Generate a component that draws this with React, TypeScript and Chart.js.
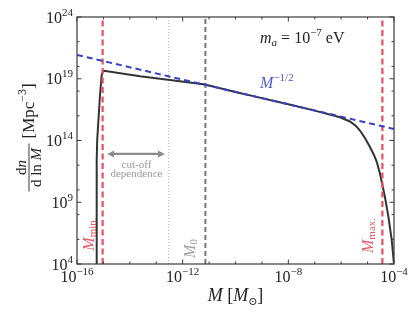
import { useEffect, useRef } from 'react';
import { Chart, registerables } from 'chart.js';

Chart.register(...registerables);

// ---- data (log10 values) ----
const curveLogM = [-15.27, -15.254, -15.235, -15.129, -15.065, -15.016, -14.978, -13.615, -12.48, -11.155, -10, -9, -8, -7, -6.046, -5.667, -5.44, -5.289, -5.1, -4.91, -4.76, -4.656, -4.53, -4.418, -4.342, -4.217, -4.089, -4.0];
const curveLogN = [4, 12.42, 14.04, 17.68, 19.3, 19.63, 19.65, 19.2, 18.9, 18.53, 17.93, 17.43, 16.93, 16.42, 15.88, 15.54, 15.17, 14.81, 14.2, 13.47, 12.83, 12.3, 11.3, 10.2, 9.4, 7.9, 6.0, 4.0];
const slopeLogM = [-16, -4];
const slopeLogN = [20.93, 14.93];
const mMinLog = -15.03;
const mMaxLog = -4.44;
const m0Log = -11.14;
const cutLog = -12.53;
const xMajorExps = [-16, -12, -8, -4];
const xMinorExps = [-15, -14, -13, -11, -10, -9, -7, -6, -5];
const yMajorExps = [4, 9, 14, 19, 24];
const yMinorExps = [6, 8, 10, 12, 16, 18, 20, 22];
const xRange = [-16, -4];
const yRange = [4, 24];

const P = (v: number) => Math.pow(10, v);

type Seg = { t: string; size: number; italic?: boolean; dy?: number; color?: string };
const FAM = '"Liberation Serif", "DejaVu Serif", serif';
const segFont = (s: Seg) => `${s.italic ? 'italic ' : ''}${s.size}px ${FAM}`;
function richWidth(ctx: CanvasRenderingContext2D, segs: Seg[]) {
  let w = 0;
  for (const s of segs) {
    ctx.font = segFont(s);
    w += ctx.measureText(s.t).width;
  }
  return w;
}
function drawRich(ctx: CanvasRenderingContext2D, segs: Seg[], x: number, y: number, align: 'left' | 'center' | 'right', color: string) {
  const w = richWidth(ctx, segs);
  let cx = align === 'left' ? x : align === 'center' ? x - w / 2 : x - w;
  ctx.textAlign = 'left';
  ctx.textBaseline = 'alphabetic';
  for (const s of segs) {
    ctx.font = segFont(s);
    ctx.fillStyle = s.color || color;
    ctx.fillText(s.t, cx, y + (s.dy || 0));
    cx += ctx.measureText(s.t).width;
  }
  return w;
}
function drawRotated(ctx: CanvasRenderingContext2D, segs: Seg[], x: number, y: number, color: string) {
  ctx.save();
  ctx.translate(x, y);
  ctx.rotate(-Math.PI / 2);
  drawRich(ctx, segs, 0, 0, 'left', color);
  ctx.restore();
}
const pow10 = (e: number): Seg[] => [
  { t: '10', size: 16 },
  { t: e < 0 ? '\u2212' + Math.abs(e) : String(e), size: 11, dy: -7 },
];

const decorPlugin = {
  id: 'decor',
  afterDraw(chart: any) {
    const ctx: CanvasRenderingContext2D = chart.ctx;
    const xs = chart.scales.x;
    const ys = chart.scales.y;
    const { left, right, top, bottom } = chart.chartArea;
    const px = (l: number) => xs.getPixelForValue(P(l));
    const py = (l: number) => ys.getPixelForValue(P(l));
    ctx.save();
    // frame
    ctx.strokeStyle = '#3a3a3a';
    ctx.lineWidth = 1.2;
    ctx.setLineDash([]);
    ctx.strokeRect(left, top, right - left, bottom - top);
    // ticks (inside, all four sides)
    ctx.lineWidth = 1;
    const tick = (x1: number, y1: number, x2: number, y2: number) => {
      ctx.beginPath();
      ctx.moveTo(x1, y1);
      ctx.lineTo(x2, y2);
      ctx.stroke();
    };
    for (const e of xMajorExps) { const x = px(e); tick(x, bottom, x, bottom - 4.5); tick(x, top, x, top + 4.5); }
    for (const e of xMinorExps) { const x = px(e); tick(x, bottom, x, bottom - 2.5); tick(x, top, x, top + 2.5); }
    for (const e of yMajorExps) { const y = py(e); tick(left, y, left + 4.5, y); tick(right, y, right - 4.5, y); }
    for (const e of yMinorExps) { const y = py(e); tick(left, y, left + 2.5, y); tick(right, y, right - 2.5, y); }
    // tick labels
    for (const e of xMajorExps) drawRich(ctx, pow10(e), px(e), bottom + 18, 'center', '#222');
    for (const e of yMajorExps) drawRich(ctx, pow10(e), left - 4, py(e) + 5.6, 'right', '#222');
    // x axis title
    drawRich(ctx, [
      { t: 'M', size: 18, italic: true },
      { t: ' [', size: 18 },
      { t: 'M', size: 18, italic: true },
      { t: '\u2299', size: 11, dy: 4 },
      { t: ']', size: 18 },
    ], (left + right) / 2, bottom + 37, 'center', '#222');
    // y axis title (rotated)
    ctx.save();
    ctx.translate(29, (top + bottom) / 2);
    ctx.rotate(-Math.PI / 2);
    const fc = -27;
    drawRich(ctx, [{ t: 'd', size: 15 }, { t: 'n', size: 15, italic: true }], fc, -3, 'center', '#222');
    drawRich(ctx, [{ t: 'd ln ', size: 15 }, { t: 'M', size: 15, italic: true }], fc, 11.5, 'center', '#222');
    ctx.strokeStyle = '#222';
    ctx.lineWidth = 0.9;
    ctx.beginPath();
    ctx.moveTo(fc - 24, 0);
    ctx.lineTo(fc + 24, 0);
    ctx.stroke();
    drawRich(ctx, [
      { t: '[Mpc', size: 17 },
      { t: '\u22123', size: 12, dy: -8 },
      { t: ']', size: 17 },
    ], 2, 5, 'left', '#222');
    ctx.restore();
    // annotations
    drawRich(ctx, [
      { t: 'm', size: 16, italic: true },
      { t: 'a', size: 11, italic: true, dy: 3 },
      { t: ' = 10', size: 16 },
      { t: '\u22127', size: 11, dy: -7 },
      { t: ' eV', size: 16 },
    ], px(-9.07), py(21.9), 'left', '#222');
    drawRich(ctx, [
      { t: 'M', size: 16, italic: true },
      { t: '\u22121/2', size: 11, dy: -7 },
    ], px(-9.07), py(18.25), 'left', 'rgb(80,90,210)');
    ctx.font = `11px ${FAM}`;
    ctx.fillStyle = '#999';
    ctx.textAlign = 'center';
    ctx.fillText('cut-off', px(-13.75), py(11.75));
    ctx.fillText('dependence', px(-13.75), py(11.07));
    // double arrow
    const ax1 = px(-14.86), ax2 = px(-12.67), ay = py(12.91);
    ctx.strokeStyle = '#8c8c8c';
    ctx.fillStyle = '#8c8c8c';
    ctx.lineWidth = 2.2;
    ctx.beginPath();
    ctx.moveTo(ax1 + 4, ay);
    ctx.lineTo(ax2 - 4, ay);
    ctx.stroke();
    const head = (x: number, dir: number) => {
      ctx.beginPath();
      ctx.moveTo(x, ay);
      ctx.lineTo(x - dir * 7, ay - 3.5);
      ctx.lineTo(x - dir * 7, ay + 3.5);
      ctx.closePath();
      ctx.fill();
    };
    head(ax1, -1);
    head(ax2, 1);
    // rotated labels
    drawRotated(ctx, [
      { t: 'M', size: 16, italic: true },
      { t: 'min.', size: 11, dy: 2 },
    ], px(-15.36), py(5.08), 'rgb(230,90,105)');
    drawRotated(ctx, [
      { t: 'M', size: 16, italic: true },
      { t: 'max.', size: 11, dy: 2 },
    ], px(-4.8), py(4.89), 'rgb(230,90,105)');
    drawRotated(ctx, [
      { t: 'M', size: 16, italic: true },
      { t: '0', size: 11, dy: 2 },
    ], px(-11.55), py(4.49), '#a0a0a0');
    ctx.restore();
  },
};

const vline = (l: number) => [{ x: P(l), y: P(yRange[0]) }, { x: P(l), y: P(yRange[1]) }];

export default function App() {
  const ref = useRef<HTMLCanvasElement | null>(null);
  useEffect(() => {
    if (!ref.current) return;
    const curve = curveLogM.map((m, i) => ({ x: P(m), y: P(curveLogN[i]) }));
    const slope = slopeLogM.map((m, i) => ({ x: P(m), y: P(slopeLogN[i]) }));
    const common = { showLine: true, pointRadius: 0, fill: false, tension: 0 };
    const chart = new Chart(ref.current, {
      type: 'scatter',
      data: {
        datasets: [
          { ...common, data: slope, borderColor: 'rgb(55,65,200)', borderWidth: 2, borderDash: [6, 4] },
          { ...common, data: vline(mMinLog), borderColor: 'rgb(232,80,96)', borderWidth: 2.2, borderDash: [6, 3.5] },
          { ...common, data: vline(mMaxLog), borderColor: 'rgb(232,80,96)', borderWidth: 2.2, borderDash: [6, 3.5] },
          { ...common, data: curve, borderColor: '#333333', borderWidth: 2 },
          { ...common, data: vline(m0Log), borderColor: 'rgb(120,120,120)', borderWidth: 2, borderDash: [5, 3] },
          { ...common, data: vline(cutLog), borderColor: 'rgb(150,150,150)', borderWidth: 0.8, borderDash: [1, 2] },
        ],
      } as any,
      options: {
        animation: false,
        responsive: true,
        maintainAspectRatio: false,
        layout: { padding: { left: 77, right: 21, top: 17, bottom: 54 } },
        plugins: { legend: { display: false }, tooltip: { enabled: false } },
        scales: {
          x: { type: 'logarithmic', display: false, min: P(xRange[0]), max: P(xRange[1]) },
          y: { type: 'logarithmic', display: false, min: P(yRange[0]), max: P(yRange[1]) },
        },
      } as any,
      plugins: [decorPlugin],
    });
    return () => chart.destroy();
  }, []);
  return (
    <div style={{ position: 'fixed', left: 0, top: 0, width: 415, height: 318, background: '#fff' }}>
      <canvas ref={ref} />
    </div>
  );
}
